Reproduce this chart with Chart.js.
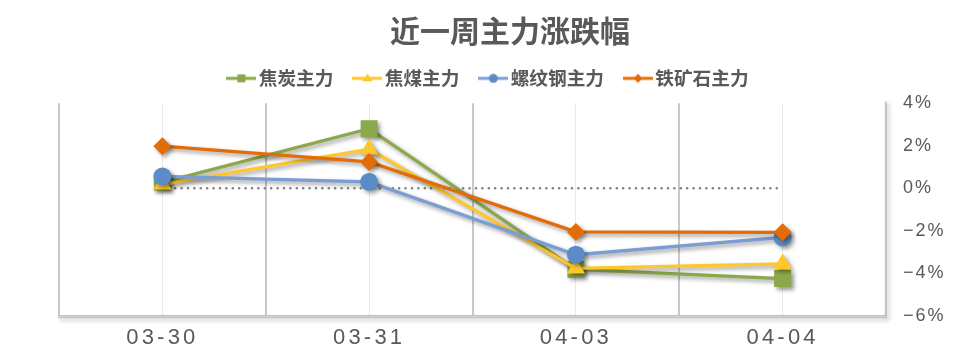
<!DOCTYPE html>
<html><head><meta charset="utf-8">
<script src="https://cdn.jsdelivr.net/npm/chart.js@4.4.1/dist/chart.umd.min.js"></script>
<style>html,body{margin:0;padding:0;background:#fff;}#wrap{width:970px;height:362px;}</style>
</head><body><div id="wrap"><canvas id="c" width="970" height="362"></canvas></div>
<script>
// ---- data ----
const chartTitle = '近一周主力涨跌幅';
const categories = ['03-30', '03-31', '04-03', '04-04'];
const seriesNames = ['焦炭主力', '焦煤主力', '螺纹钢主力', '铁矿石主力'];
const cokeValues = [0.28, 2.80, -3.81, -4.24];
const cokingCoalValues = [0.19, 1.84, -3.76, -3.55];
const rebarValues = [0.56, 0.30, -3.12, -2.31];
const ironOreValues = [1.98, 1.24, -2.05, -2.07];
const zeroLineValues = [0, 0, 0, 0];
const yMin = -6, yMax = 4, yStep = 2;

// ---- styles ----
const TXT = '#595959';
const CJK = '"Noto Sans CJK SC","Noto Sans",sans-serif';
const styles = [
  {line: '#8BA84B', point: '#8BA84B', shape: 'rect', r: 12},
  {line: '#FFC72C', point: '#FFC72C', shape: 'triangle', r: 10.5},
  {line: '#7A9ED4', point: '#5B8CC7', shape: 'circle', r: 9},
  {line: '#E36C09', point: '#E36C09', shape: 'rectRot', r: 9}
];
const seriesValues = [cokeValues, cokingCoalValues, rebarValues, ironOreValues];

function legendIcon(st) {
  const cv = document.createElement('canvas');
  cv.width = 30; cv.height = 14;
  const c = cv.getContext('2d');
  c.strokeStyle = st.line; c.lineWidth = 3;
  c.beginPath(); c.moveTo(0, 7); c.lineTo(30, 7); c.stroke();
  c.fillStyle = st.point;
  c.beginPath();
  if (st.shape === 'rect') c.rect(11, 3, 8, 8);
  else if (st.shape === 'triangle') { c.moveTo(15, 2); c.lineTo(20, 10); c.lineTo(10, 10); c.closePath(); }
  else if (st.shape === 'circle') c.arc(15, 7, 4.5, 0, Math.PI * 2);
  else { c.moveTo(15, 2.5); c.lineTo(19.5, 7); c.lineTo(15, 11.5); c.lineTo(10.5, 7); c.closePath(); }
  c.fill();
  return cv;
}
const icons = styles.map(legendIcon);

const datasets = seriesNames.map((name, i) => ({
  label: name,
  data: seriesValues[i],
  borderColor: styles[i].line,
  backgroundColor: styles[i].point,
  pointBackgroundColor: styles[i].point,
  pointBorderColor: styles[i].point,
  pointBorderWidth: 0,
  pointStyle: styles[i].shape,
  pointRadius: styles[i].r,
  pointHoverRadius: styles[i].r,
  borderWidth: 3.3,
  tension: 0,
  order: 3 - i
}));
datasets.push({
  label: '__zero',
  data: zeroLineValues,
  borderColor: '#808080',
  borderWidth: 2.6,
  borderDash: [0, 6.4],
  borderCapStyle: 'round',
  pointRadius: 0,
  order: 10
});

const fxPlugin = {
  id: 'fx',
  afterLayout(chart) {
    const lg = chart.legend;
    if (lg) { lg.left -= 13; lg.right -= 13; }
    const patch = (s, sp) => {
      if (!s || s._lsPatched) return;
      const orig = s.drawLabels.bind(s);
      s.drawLabels = function (ca) {
        const c = this.ctx; const prev = c.letterSpacing;
        c.letterSpacing = sp; orig(ca); c.letterSpacing = prev || '0px';
      };
      s._lsPatched = true;
    };
    patch(chart.scales.x, '3.2px');
    patch(chart.scales.y, '2px');
  },
  beforeDatasetsDraw(chart) {
    const {ctx, chartArea: a} = chart;
    ctx.save();
    ctx.shadowColor = 'rgba(0,0,0,0.35)';
    ctx.shadowBlur = 4; ctx.shadowOffsetX = 2; ctx.shadowOffsetY = 2;
    ctx.strokeStyle = '#C4C4C4'; ctx.lineWidth = 1.5;
    ctx.beginPath();
    ctx.moveTo(a.right, a.top - 2); ctx.lineTo(a.right, a.bottom + 1.5); ctx.lineTo(a.left - 1, a.bottom + 1.5);
    ctx.stroke();
    ctx.restore();
  },
  beforeDatasetDraw(chart, args) {
    const ctx = chart.ctx;
    ctx.save();
    if (args.index < 4) {
      ctx.shadowColor = 'rgba(0,0,0,0.4)';
      ctx.shadowBlur = 4; ctx.shadowOffsetX = 2.5; ctx.shadowOffsetY = 2.5;
    }
  },
  afterDatasetDraw(chart) { chart.ctx.restore(); },
  afterDraw(chart) {
    const ctx = chart.ctx;
    ctx.save();
    ctx.font = 'bold 30px ' + CJK;
    ctx.fillStyle = TXT; ctx.textAlign = 'center'; ctx.textBaseline = 'middle';
    ctx.fillText(chartTitle, 510, 31);
    ctx.restore();
  }
};

new Chart(document.getElementById('c'), {
  type: 'line',
  data: {labels: categories, datasets},
  plugins: [fxPlugin],
  options: {
    responsive: false,
    animation: false,
    devicePixelRatio: 1,
    layout: {padding: {left: 59, right: 21, top: 43, bottom: 10}},
    plugins: {
      title: {display: false},
      tooltip: {enabled: false},
      legend: {
        position: 'top',
        labels: {
          usePointStyle: true,
          pointStyleWidth: 16,
          padding: 26,
          color: TXT,
          font: {family: CJK, size: 18.67, weight: 'bold'},
          filter: (item) => item.datasetIndex < 4,
          generateLabels: (chart) => chart.data.datasets.map((d, i) => ({
            text: d.label, datasetIndex: i, pointStyle: icons[i] || 'line',
            fillStyle: d.borderColor, strokeStyle: d.borderColor, lineWidth: 0, hidden: false, fontColor: TXT
          }))
        }
      }
    },
    scales: {
      x: {
        type: 'category',
        position: 'bottom',
        offset: true,
        grid: {display: true, offset: true, color: '#C8C8C8', lineWidth: 2, drawTicks: false},
        border: {display: true, color: '#C4C4C4', width: 1.5},
        ticks: {color: TXT, padding: 9, font: {family: '"Liberation Sans",Arial,sans-serif', size: 22}, maxRotation: 0},
        afterFit: (s) => { s.height = 36; }
      },
      x2: {
        type: 'category',
        labels: categories,
        position: 'top',
        offset: true,
        grid: {display: true, offset: false, color: '#E8E8E8', lineWidth: 1, drawTicks: false},
        border: {display: false},
        ticks: {display: false},
        afterFit: (s) => { s.height = 5.5; }
      },
      y: {
        position: 'right',
        min: yMin, max: yMax,
        grid: {display: false, drawTicks: false},
        border: {display: false},
        ticks: {
          stepSize: yStep, padding: 17, color: TXT,
          font: {family: '"Liberation Sans",Arial,sans-serif', size: 18},
          callback: (v) => (v < 0 ? '\u2212' + Math.abs(v) : v) + '%'
        },
        afterFit: (s) => { s.width = 63; }
      }
    }
  }
});
</script>
</body></html>
